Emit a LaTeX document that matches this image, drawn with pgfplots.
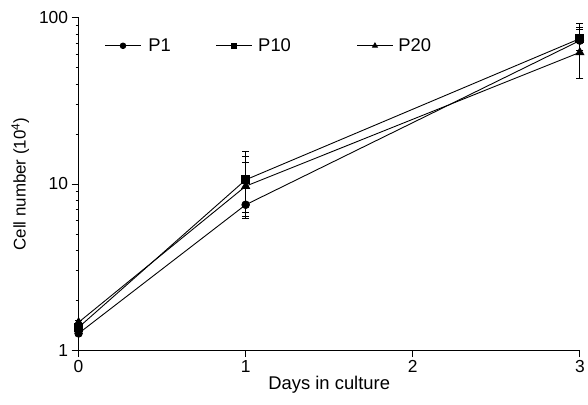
\documentclass[border=0pt]{standalone}
\usepackage{fontspec}
\setmainfont{Liberation Sans}
\usepackage{pgfplots}
\pgfplotsset{compat=1.18}
\usepackage{pgfplotstable}
\pgfplotstableread{
x y ep em
0 1.26 0.04 0.04
1 7.5 5.9 0.8
3 73 15 9
}\pone
\pgfplotstableread{
x y ep em
0 1.37 0.04 0.04
1 10.6 5.2 4.4
3 75 17 14
}\pten
\pgfplotstableread{
x y ep em
0 1.47 0.04 0.04
1 9.7 5.0 3.3
3 62 23 19
}\ptwenty
\begin{document}
\begin{tikzpicture}
\begin{axis}[
  scale only axis,
  width=504pt, height=334pt,
  ymode=log,
  xmin=0, xmax=3, ymin=1, ymax=100,
  xtick={0,1,2,3},
  ytick={1,10,100},
  yticklabels={1,10,100},
  minor ytick={},
  axis lines*=left,
  axis line style={-, line width=0.9pt},
  tick style={line width=0.9pt, black},
  tick align=outside,
  major tick length=7pt,
  clip=false,
  tick label style={font=\fontsize{17.5}{21}\selectfont},
  /pgf/number format/assume math mode=true,
  xlabel={Days in culture},
  ylabel={Cell number (10\textsuperscript{4})},
  xlabel style={yshift=4pt, font=\fontsize{18.5}{22}\selectfont},
  ylabel style={yshift=3pt, font=\fontsize{17}{20}\selectfont},
  legend columns=3,
  legend style={draw=none, fill=none, at={(0.052,0.916)}, anchor=west,
    inner sep=0pt, outer sep=0pt,
    font=\fontsize{18.5}{22}\selectfont,
    /tikz/column 1/.style={column sep=5pt},
    /tikz/column 2/.style={column sep=43pt},
    /tikz/column 3/.style={column sep=4pt},
    /tikz/column 4/.style={column sep=64pt},
    /tikz/column 5/.style={column sep=3pt}},
  legend image code/.code={\draw[mark repeat=2,mark phase=2,#1,mark size=2.8pt] plot coordinates {(0pt,0pt) (18pt,0pt) (36pt,0pt)};},
  every axis plot/.append style={black, line width=0.9pt},
  error bars/y dir=both,
  error bars/y explicit,
  error bars/error mark options={rotate=90, mark size=3.5pt, line width=0.9pt},
  error bars/error bar style={line width=0.9pt},
]
\addplot[mark=*, mark size=3.8pt] table[x=x, y=y, y error plus=ep, y error minus=em]{\pone};
\addlegendentry{P1}
\addplot[mark=square*, mark size=4pt] table[x=x, y=y, y error plus=ep, y error minus=em]{\pten};
\addlegendentry{P10}
\addplot[mark=triangle*, mark size=4.5pt] table[x=x, y=y, y error plus=ep, y error minus=em]{\ptwenty};
\addlegendentry{P20}
\end{axis}
\path (current axis.south west) ++(-79pt,-55pt) (current axis.north east) ++(5pt,18pt);
\end{tikzpicture}
\end{document}
